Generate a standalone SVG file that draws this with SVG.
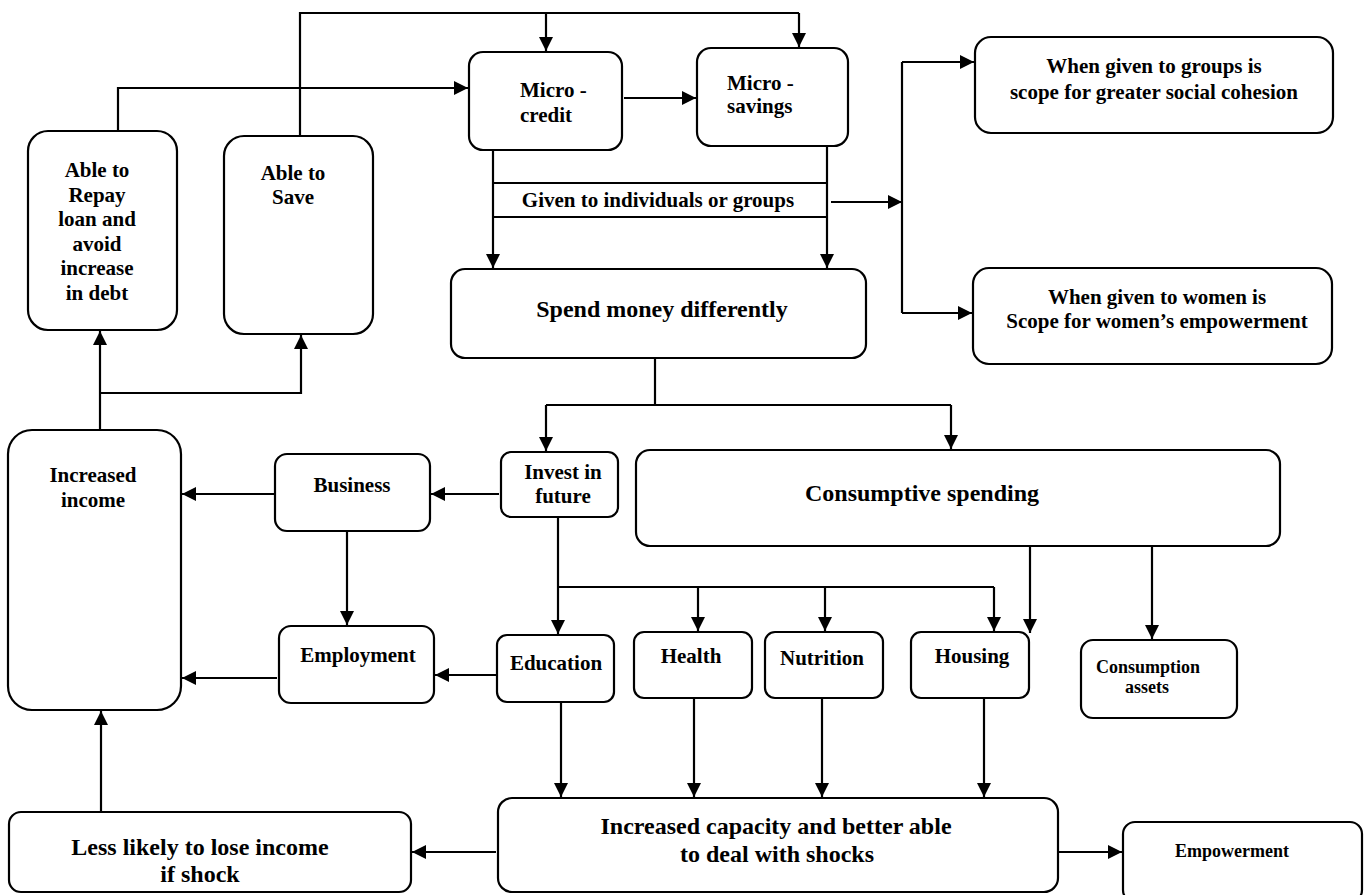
<svg xmlns="http://www.w3.org/2000/svg" width="1366" height="895" viewBox="0 0 1366 895">
<style>
  .box { fill: #ffffff; stroke: #000000; stroke-width: 2.2; }
  .t { font-family: "Liberation Serif", "Times New Roman", serif; font-weight: bold; font-size: 21px; fill: #000000; text-anchor: middle; }
  .tl { text-anchor: start; }
  .big { font-size: 24px; }
  .sm { font-size: 18px; }
  .c { fill: none; stroke: #000000; stroke-width: 2.2; }
  .a { marker-end: url(#ah); }
</style>
<defs>
  <marker id="ah" viewBox="0 0 14 14" refX="14" refY="7" markerWidth="14" markerHeight="14" markerUnits="userSpaceOnUse" orient="auto">
    <path d="M0,0 L14,7 L0,14 z" fill="#000000"/>
  </marker>
</defs>
<rect width="1366" height="895" fill="#ffffff"/>

<g id="connectors">
  <polyline class="c" points="300,136 300,13 799,13"/>
  <line class="c a" x1="799" y1="13" x2="799" y2="47"/>
  <line class="c a" x1="546" y1="13" x2="546" y2="51"/>
  <polyline class="c a" points="118,131 118,88 468,88"/>
  <line class="c a" x1="624" y1="98" x2="696" y2="98"/>
  <line class="c a" x1="493" y1="150" x2="493" y2="268"/>
  <line class="c a" x1="827" y1="146" x2="827" y2="268"/>
  <line class="c" x1="493" y1="183" x2="827" y2="183"/>
  <line class="c" x1="493" y1="217" x2="827" y2="217"/>
  <line class="c a" x1="831" y1="202" x2="902" y2="202"/>
  <line class="c" x1="902" y1="62" x2="902" y2="313"/>
  <line class="c a" x1="902" y1="62" x2="974" y2="62"/>
  <line class="c a" x1="902" y1="313" x2="972" y2="313"/>
  <line class="c" x1="655" y1="358" x2="655" y2="405"/>
  <line class="c" x1="546" y1="405" x2="951" y2="405"/>
  <line class="c a" x1="546" y1="405" x2="546" y2="451"/>
  <line class="c a" x1="951" y1="405" x2="951" y2="449"/>
  <line class="c a" x1="499" y1="494" x2="431" y2="494"/>
  <line class="c a" x1="274" y1="494" x2="182" y2="494"/>
  <line class="c a" x1="347" y1="531" x2="347" y2="625"/>
  <line class="c a" x1="277" y1="678" x2="182" y2="678"/>
  <line class="c a" x1="496" y1="675" x2="435" y2="675"/>
  <line class="c a" x1="558" y1="517" x2="558" y2="634"/>
  <line class="c" x1="558" y1="587" x2="994" y2="587"/>
  <line class="c a" x1="698" y1="587" x2="698" y2="631"/>
  <line class="c a" x1="825" y1="587" x2="825" y2="631"/>
  <line class="c a" x1="994" y1="587" x2="994" y2="631"/>
  <line class="c a" x1="1030" y1="546" x2="1030" y2="633"/>
  <line class="c a" x1="1152" y1="546" x2="1152" y2="639"/>
  <line class="c a" x1="561" y1="702" x2="561" y2="797"/>
  <line class="c a" x1="694" y1="698" x2="694" y2="797"/>
  <line class="c a" x1="822" y1="698" x2="822" y2="797"/>
  <line class="c a" x1="984" y1="698" x2="984" y2="797"/>
  <line class="c a" x1="496" y1="852" x2="412" y2="852"/>
  <line class="c a" x1="1058" y1="852" x2="1122" y2="852"/>
  <line class="c a" x1="101" y1="812" x2="101" y2="711"/>
  <line class="c a" x1="100" y1="430" x2="100" y2="331"/>
  <polyline class="c a" points="100,393 301,393 301,335"/>
</g>

<g id="able-repay">
  <rect class="box" x="28" y="131" width="149" height="199" rx="20"/>
  <text class="t" x="97" y="177">Able to</text>
  <text class="t" x="97" y="202">Repay</text>
  <text class="t" x="97" y="226">loan and</text>
  <text class="t" x="97" y="251">avoid</text>
  <text class="t" x="97" y="275">increase</text>
  <text class="t" x="97" y="300">in debt</text>
</g>
<g id="able-save">
  <rect class="box" x="224" y="136" width="149" height="198" rx="20"/>
  <text class="t" x="293" y="180">Able to</text>
  <text class="t" x="293" y="204">Save</text>
</g>
<g id="micro-credit">
  <rect class="box" x="469" y="52" width="153" height="98" rx="14"/>
  <text class="t tl" x="520" y="97">Micro -</text>
  <text class="t tl" x="520" y="122">credit</text>
</g>
<g id="micro-savings">
  <rect class="box" x="697" y="48" width="151" height="98" rx="14"/>
  <text class="t tl" x="727" y="90">Micro -</text>
  <text class="t tl" x="727" y="113">savings</text>
</g>
<g id="given-label">
  <text class="t" x="658" y="207">Given to individuals or groups</text>
</g>
<g id="groups">
  <rect class="box" x="975" y="37" width="358" height="96" rx="16"/>
  <text class="t" x="1154" y="73">When given to groups is</text>
  <text class="t" x="1154" y="99">scope for greater social cohesion</text>
</g>
<g id="women">
  <rect class="box" x="973" y="268" width="359" height="96" rx="16"/>
  <text class="t" x="1157" y="304">When given to women is</text>
  <text class="t" x="1157" y="328">Scope for women’s empowerment</text>
</g>
<g id="spend">
  <rect class="box" x="451" y="269" width="415" height="89" rx="14"/>
  <text class="t big" x="662" y="317">Spend money differently</text>
</g>
<g id="income">
  <rect class="box" x="8" y="430" width="173" height="280" rx="24"/>
  <text class="t" x="93" y="482">Increased</text>
  <text class="t" x="93" y="507">income</text>
</g>
<g id="business">
  <rect class="box" x="275" y="454" width="155" height="77" rx="12"/>
  <text class="t" x="352" y="492">Business</text>
</g>
<g id="invest">
  <rect class="box" x="501" y="452" width="117" height="65" rx="10"/>
  <text class="t" x="563" y="479">Invest in</text>
  <text class="t" x="563" y="503">future</text>
</g>
<g id="consumptive">
  <rect class="box" x="636" y="450" width="644" height="96" rx="14"/>
  <text class="t big" x="922" y="501">Consumptive spending</text>
</g>
<g id="employment">
  <rect class="box" x="279" y="626" width="155" height="77" rx="12"/>
  <text class="t" x="358" y="662">Employment</text>
</g>
<g id="education">
  <rect class="box" x="497" y="635" width="117" height="67" rx="10"/>
  <text class="t" x="556" y="670">Education</text>
</g>
<g id="health">
  <rect class="box" x="634" y="632" width="118" height="66" rx="10"/>
  <text class="t" x="691" y="663">Health</text>
</g>
<g id="nutrition">
  <rect class="box" x="765" y="632" width="118" height="66" rx="10"/>
  <text class="t" x="822" y="665">Nutrition</text>
</g>
<g id="housing">
  <rect class="box" x="911" y="632" width="118" height="66" rx="10"/>
  <text class="t" x="972" y="663">Housing</text>
</g>
<g id="consumption-assets">
  <rect class="box" x="1081" y="640" width="156" height="78" rx="12"/>
  <text class="t sm" x="1148" y="673">Consumption</text>
  <text class="t sm" x="1147" y="693">assets</text>
</g>
<g id="less-likely">
  <rect class="box" x="9" y="812" width="402" height="80" rx="12"/>
  <text class="t big" x="200" y="855">Less likely to lose income</text>
  <text class="t big" x="200" y="882">if shock</text>
</g>
<g id="capacity">
  <rect class="box" x="498" y="798" width="560" height="94" rx="14"/>
  <text class="t big" x="776" y="834">Increased capacity and better able</text>
  <text class="t big" x="777" y="862">to deal with shocks</text>
</g>
<g id="empowerment">
  <rect class="box" x="1123" y="822" width="239" height="80" rx="12"/>
  <text class="t sm" x="1232" y="857">Empowerment</text>
</g>
</svg>
